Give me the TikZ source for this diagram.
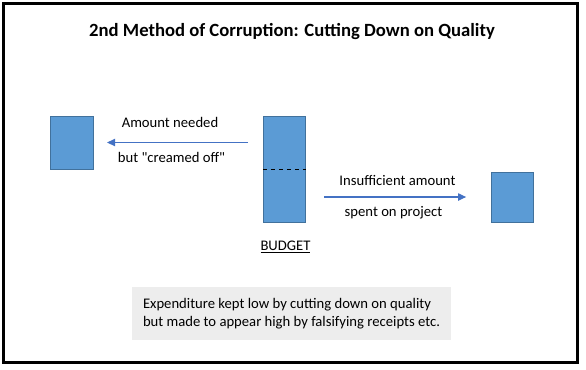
\documentclass[tikz,border=0pt]{standalone}
\usepackage{fontspec}
\setmainfont{Carlito}[Ligatures=TeXOff]
\usetikzlibrary{arrows.meta}
\definecolor{boxblue}{HTML}{5B9BD5}
\definecolor{boxedge}{HTML}{41719C}
\definecolor{arrblue}{HTML}{4472C4}
\definecolor{notegray}{HTML}{EDEDED}
\begin{document}
\begin{tikzpicture}[
      x=0.75pt, y=-0.75pt,
      font=\fontsize{11}{13}\selectfont,
      blk/.style={
        draw=boxedge, fill=boxblue, line width=0.6pt,
        minimum width=32pt, inner sep=0pt
      },
      arr/.style={
        draw=arrblue, line width=0.8pt,
        -{Triangle[length=6pt, width=5.5pt]}
      },
      lbl/.style={inner sep=0pt, anchor=center}
    ]
    \useasboundingbox (0,0) rectangle (586,369);
    \draw[line width=1.6pt] (3.5,3.5) rectangle (577.5,362.5);

    \node[font=\fontsize{14}{16}\selectfont\bfseries] (title) at (292,32)
      {2nd Method of Corruption: Cutting Down on Quality};

    \node[blk, minimum height=39.75pt] (drain) at (72,142.5) {};
    \node[blk, minimum height=79.5pt] (budget) at (284.5,169) {};
    \node[blk, minimum height=37.5pt] (project) at (512.5,197) {};
    \draw[dashed, line width=0.6pt] (budget.west |- drain.south) -- (budget.east |- drain.south);

    \draw[arr, shorten <=11pt, shorten >=10pt] (budget.west |- drain.east) -- (drain.east);
    \draw[arr, shorten <=13.5pt, shorten >=18.5pt] (budget.east |- project.west) -- (project.west);

    \node[lbl] (need) at (170,122) {Amount needed};
    \node[lbl] (cream) at (171.5,157) {but "creamed off"};
    \node[lbl] (insuf) at (397.5,180) {Insufficient amount};
    \node[lbl] (spent) at (393.5,213) {spent on project};
    \node[lbl] (blabel) at (285.5,247) {\underline{BUDGET}};

    \node[fill=notegray, minimum width=239pt, minimum height=39.75pt,
      align=left, inner sep=0pt] (note) at (291.5,313.5)
      {Expenditure kept low by cutting down on quality\\
       but made to appear high by falsifying receipts etc.};
  \end{tikzpicture}
\end{document}
